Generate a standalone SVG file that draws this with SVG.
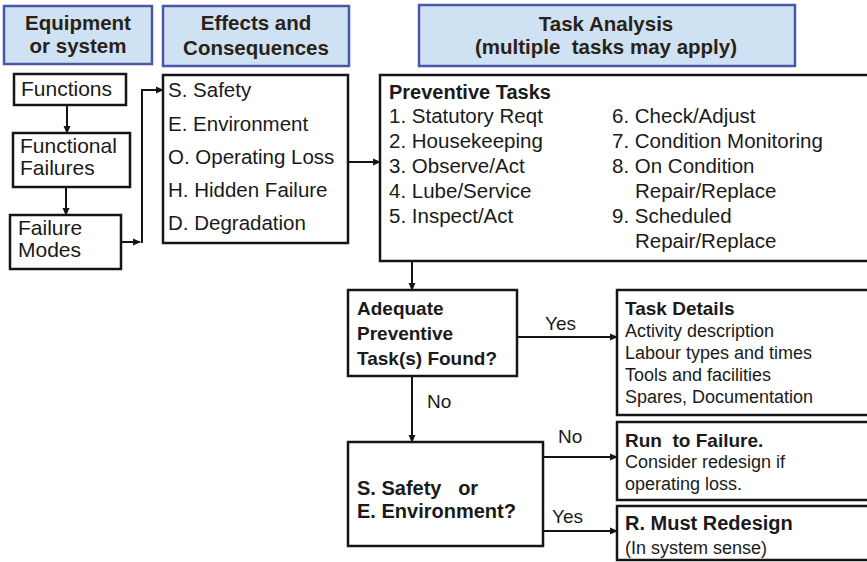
<svg xmlns="http://www.w3.org/2000/svg" width="867" height="562" viewBox="0 0 867 562">
<style>
text{font-family:"Liberation Sans",Arial,sans-serif;fill:#1a1a1a}
.hdr rect{fill:#cfe2f3;stroke:#4b57a6;stroke-width:2.5}
.hdr text{font-weight:bold;font-size:20.5px;text-anchor:middle;fill:#2a2218}
.box{fill:#fff;stroke:#151515;stroke-width:2.5}
.t21{font-size:21px}
.t20{font-size:20.5px}
.b19{font-size:19px;font-weight:bold}
.b20{font-size:20px;font-weight:bold}
.r18{font-size:18px}
.lbl{font-size:19px}
.con path{fill:none;stroke:#151515;stroke-width:2;marker-end:url(#ah)}
</style>
<defs>
<marker id="ah" markerWidth="8" markerHeight="8" refX="7" refY="4" orient="auto" markerUnits="userSpaceOnUse">
<path d="M0,0.5 L8,4 L0,7.5 z" fill="#151515"/>
</marker>
</defs>
<rect width="867" height="562" fill="#fff"/>

<g id="hdr-equipment" class="hdr">
<rect x="4" y="6" width="148" height="58"/>
<text x="78" y="30">Equipment</text>
<text x="78" y="53">or system</text>
</g>
<g id="hdr-effects" class="hdr">
<rect x="163" y="6" width="186" height="60"/>
<text x="256" y="30">Effects and</text>
<text x="256" y="55">Consequences</text>
</g>
<g id="hdr-task" class="hdr">
<rect x="419" y="5" width="376" height="61"/>
<text x="606" y="31">Task Analysis</text>
<text x="606" y="54" xml:space="preserve">(multiple  tasks may apply)</text>
</g>

<g id="functions">
<rect class="box" x="14" y="74" width="112" height="31"/>
<text class="t21" x="21" y="96">Functions</text>
</g>
<g id="functional-failures">
<rect class="box" x="13" y="133" width="117" height="54"/>
<text class="t21" x="20" y="153">Functional</text>
<text class="t21" x="20" y="175">Failures</text>
</g>
<g id="failure-modes">
<rect class="box" x="10" y="215" width="111" height="54"/>
<text class="t21" x="18" y="235">Failure</text>
<text class="t21" x="18" y="257">Modes</text>
</g>

<g id="effects">
<rect class="box" x="163" y="75" width="185" height="168"/>
<text class="t20" x="168" y="97">S. Safety</text>
<text class="t20" x="168" y="131">E. Environment</text>
<text class="t20" x="168" y="164">O. Operating Loss</text>
<text class="t20" x="168" y="197">H. Hidden Failure</text>
<text class="t20" x="168" y="230">D. Degradation</text>
</g>

<g id="preventive-tasks">
<rect class="box" x="380" y="75" width="500" height="186"/>
<text class="b20" x="389" y="99">Preventive Tasks</text>
<text class="t20" x="389" y="123">1. Statutory Reqt</text>
<text class="t20" x="389" y="148">2. Housekeeping</text>
<text class="t20" x="389" y="173">3. Observe/Act</text>
<text class="t20" x="389" y="198">4. Lube/Service</text>
<text class="t20" x="389" y="223">5. Inspect/Act</text>
<text class="t20" x="612" y="123">6. Check/Adjust</text>
<text class="t20" x="612" y="148">7. Condition Monitoring</text>
<text class="t20" x="612" y="173">8. On Condition</text>
<text class="t20" x="635" y="198">Repair/Replace</text>
<text class="t20" x="612" y="223">9. Scheduled</text>
<text class="t20" x="635" y="248">Repair/Replace</text>
</g>

<g id="adequate">
<rect class="box" x="348" y="290" width="169" height="86"/>
<text class="b19" x="357" y="315">Adequate</text>
<text class="b19" x="357" y="340">Preventive</text>
<text class="b19" x="357" y="365">Task(s) Found?</text>
</g>

<g id="task-details">
<rect class="box" x="617" y="290" width="263" height="125"/>
<text class="b19" x="625" y="315">Task Details</text>
<text class="r18" x="625" y="337">Activity description</text>
<text class="r18" x="625" y="359">Labour types and times</text>
<text class="r18" x="625" y="381">Tools and facilities</text>
<text class="r18" x="625" y="403">Spares, Documentation</text>
</g>

<g id="safety-env">
<rect class="box" x="348" y="442" width="195" height="104"/>
<text class="b20" x="357" y="495" xml:space="preserve">S. Safety   or</text>
<text class="b20" x="357" y="518">E. Environment?</text>
</g>

<g id="run-to-failure">
<rect class="box" x="617" y="422" width="263" height="78"/>
<text class="b19" x="625" y="447" xml:space="preserve">Run  to Failure.</text>
<text class="r18" x="625" y="468">Consider redesign if</text>
<text class="r18" x="625" y="490">operating loss.</text>
</g>

<g id="must-redesign">
<rect class="box" x="617" y="506" width="263" height="54"/>
<text class="b20" x="625" y="530">R. Must Redesign</text>
<text class="r18" x="625" y="554">(In system sense)</text>
</g>

<g id="connectors" class="con">
<path d="M67,105 V133"/>
<path d="M66,187 V215"/>
<path d="M121,242 H140"/>
<path d="M142,243 V90 H163"/>
<path d="M348,162 H380"/>
<path d="M412,261 V290"/>
<path d="M517,337 H617"/>
<path d="M412,376 V442"/>
<path d="M543,457 H617"/>
<path d="M543,531 H617"/>
</g>
<g id="connector-labels">
<text class="lbl" x="545" y="330">Yes</text>
<text class="lbl" x="427" y="408">No</text>
<text class="lbl" x="558" y="443">No</text>
<text class="lbl" x="552" y="523">Yes</text>
</g>
</svg>
